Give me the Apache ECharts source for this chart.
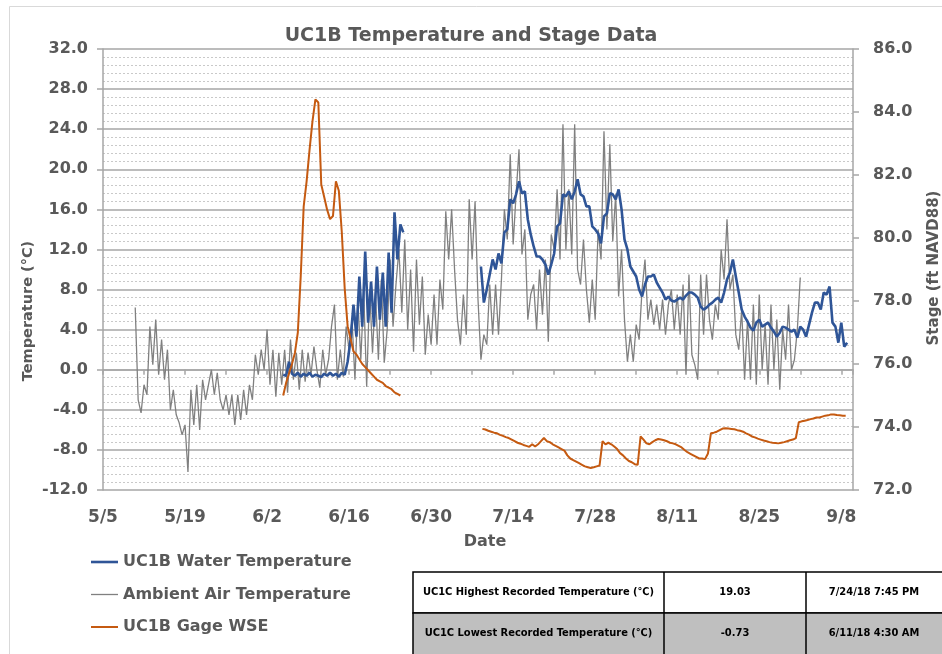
<!DOCTYPE html>
<html>
<head>
<meta charset="utf-8">
<script src="https://cdn.jsdelivr.net/npm/echarts@6/dist/echarts.min.js"></script>
<style>
  html, body { margin: 0; padding: 0; background: #fff; }
  #chart { width: 942px; height: 654px; }
</style>
</head>
<body>
<div id="chart"></div>
<script>
// x axis is counted in days from 5/5/2018
const axisStart = '2018-05-05 00:00'
const dateLabels = ['5/5', '5/19', '6/2', '6/16', '6/30', '7/14', '7/28', '8/11', '8/25', '9/8']
const stepDays = 0.5 // readings every 12 hours

// Ambient air temperature (°C)
const airStart = '2018-05-10 12:00'
const airTemp = [
  6.2, -3.0, -4.3, -1.5, -2.5, 4.3, 0.5, 5.0, -0.5, 3.0, -1.0, 2.0,
  -4.0, -2.0, -4.5, -5.3, -6.5, -5.5, -10.2, -2.0, -5.5, -1.5, -6.0, -1.0,
  -3.0, -1.5, 0.0, -2.5, -0.3, -3.0, -4.0, -2.5, -4.5, -2.5, -5.5, -2.5,
  -5.0, -2.0, -4.5, -1.5, -3.0, 1.5, -0.5, 2.0, 0.0, 4.0, -1.5, 2.0,
  -2.7, 1.7, -1.5, 2.0, -2.3, 3.0, -1.0, 1.7, -2.0, 2.0, -1.2, 1.7,
  -0.5, 2.3, 0.0, -1.8, 2.0, -0.5, 1.0, 4.3, 6.5, -1.0, 2.0, -0.7,
  4.3, 2.0, 5.0, -1.0, 7.0, 1.0, 7.7, -1.7, 8.0, 1.7, 7.7, 1.0,
  9.0, 0.7, 4.0, 11.0, 4.3, 8.5, 12.0, 5.7, 13.0, 4.0, 10.0, 1.8,
  11.0, 4.5, 9.3, 1.5, 5.5, 2.5, 7.5, 2.5, 9.0, 6.0, 15.8, 11.0,
  16.0, 10.0, 5.0, 2.5, 7.5, 3.5, 17.0, 11.0, 16.8, 7.0, 1.0, 3.5,
  2.5, 8.5, 3.5, 8.5, 3.5, 9.0, 16.0, 13.0, 21.5, 12.5, 17.5, 22.0,
  11.5, 14.0, 5.0, 7.5, 8.5, 4.0, 10.0, 5.5, 11.0, 2.8, 13.5, 12.0,
  18.0, 11.0, 24.5, 12.0, 18.0, 11.5, 24.5, 10.0, 8.5, 13.0, 8.0, 4.7,
  9.0, 5.0, 14.0, 11.0, 23.8, 14.0, 22.5, 12.8, 17.5, 7.3, 12.0, 5.0,
  0.8, 3.5, 0.8, 4.5, 3.0, 8.0, 11.0, 5.0, 7.0, 4.5, 6.5, 4.0,
  7.0, 3.5, 6.5, 8.0, 4.0, 7.5, 3.5, 8.5, -0.5, 9.5, 1.5, 0.5,
  -1.0, 9.5, 3.5, 9.5, 5.0, 3.0, 6.5, 5.0, 12.0, 9.0, 15.0, 8.0,
  9.5, 3.5, 2.0, 6.0, -1.0, 5.0, -1.0, 6.5, -1.5, 7.5, 0.0, 4.5,
  -1.5, 6.5, 0.0, 5.0, -2.0, 4.0, 1.0, 6.5, 0.0, 1.0, 4.0, 9.2
]

// UC1B water temperature (°C), two logger periods
const waterStart1 = '2018-06-04 18:00'
const waterTemp1 = [
  -0.5, -0.6, 0.8, -0.4, -0.6, -0.3, -0.7, -0.4, -0.6, -0.3, -0.7, -0.5,
  -0.6, -0.73, -0.4, -0.6, -0.3, -0.6, -0.4, -0.7, -0.3, -0.5, 0.8, 3.0,
  6.5, 3.3, 9.3, 4.3, 11.8, 4.7, 8.8, 4.3, 10.3, 5.0, 9.7, 4.3,
  11.7, 5.7, 15.7, 11.0, 14.5, 13.7
]
const waterStart2 = '2018-07-08 12:00'
const waterTemp2 = [
  10.3, 6.7, 8.0, 9.5, 11.0, 10.0, 11.6, 10.6, 13.7, 14.0, 17.0, 16.6,
  17.5, 18.8, 17.6, 17.8, 15.0, 13.5, 12.3, 11.3, 11.3, 11.0, 10.5, 9.5,
  10.5, 11.6, 14.3, 14.6, 17.5, 17.3, 17.8, 17.0, 17.8, 19.0, 17.5, 17.3,
  16.3, 16.3, 14.3, 14.0, 13.6, 12.6, 15.3, 15.6, 17.6, 17.5, 17.0, 18.0,
  16.0, 13.0, 12.0, 10.3, 9.8, 9.3, 8.0, 7.3, 8.5, 9.3, 9.3, 9.5,
  8.7, 8.2, 7.7, 7.0, 7.3, 6.9, 6.8, 7.0, 7.2, 7.0, 7.4, 7.7,
  7.7, 7.5, 7.2, 6.3, 6.0, 6.2, 6.5, 6.7, 7.0, 7.2, 6.7, 7.7,
  9.0, 9.7, 11.0, 9.3, 7.7, 6.0, 5.3, 4.8, 4.2, 3.9, 4.7, 5.0,
  4.3, 4.5, 4.7, 4.2, 3.8, 3.3, 3.7, 4.3, 4.2, 4.0, 3.8, 4.0,
  3.2, 4.3, 4.0, 3.3, 4.5, 5.7, 6.7, 6.7, 6.0, 7.7, 7.5, 8.3,
  4.7, 4.3, 2.7, 4.7, 2.3, 2.7
]

// UC1B gage water surface elevation (ft NAVD88), two periods
const stageStart1 = '2018-06-04 18:00'
const stage1 = [
  75.0, 75.4, 75.7, 76.0, 76.35, 77.0, 78.8, 81.0, 81.8, 82.8, 83.7, 84.4,
  84.3, 81.7, 81.3, 80.9, 80.6, 80.7, 81.8, 81.5, 80.2, 78.4, 77.2, 76.8,
  76.4, 76.3, 76.15, 76.0, 75.9, 75.8, 75.7, 75.6, 75.5, 75.45, 75.4, 75.3,
  75.25, 75.2, 75.1, 75.05, 75.0
]
const stageStart2 = '2018-07-08 18:00'
const stage2 = [
  73.94, 73.92, 73.88, 73.85, 73.82, 73.8, 73.75, 73.72, 73.68, 73.65, 73.6, 73.55,
  73.5, 73.47, 73.43, 73.4, 73.37, 73.45, 73.38, 73.45, 73.55, 73.65, 73.55, 73.52,
  73.45, 73.4, 73.35, 73.3, 73.25, 73.1, 73.0, 72.95, 72.9, 72.85, 72.8, 72.75,
  72.72, 72.7, 72.72, 72.75, 72.78, 73.55, 73.45, 73.5, 73.45, 73.38, 73.3, 73.17,
  73.1, 73.0, 72.92, 72.88, 72.82, 72.8, 73.7, 73.6, 73.48, 73.45, 73.52, 73.58,
  73.62, 73.6, 73.58, 73.55, 73.5, 73.48, 73.45, 73.4, 73.35, 73.27, 73.2, 73.15,
  73.1, 73.05, 73.0, 73.0, 72.98, 73.16, 73.8, 73.82, 73.85, 73.9, 73.95, 73.96,
  73.95, 73.94, 73.93, 73.9, 73.88, 73.85, 73.8, 73.76, 73.7, 73.67, 73.63, 73.6,
  73.57, 73.55, 73.52, 73.5, 73.49, 73.48, 73.5, 73.52, 73.55, 73.58, 73.6, 73.65,
  74.15, 74.18, 74.2, 74.22, 74.25, 74.27, 74.3, 74.3, 74.33, 74.36, 74.37, 74.4,
  74.4, 74.38, 74.37, 74.36, 74.36
]

const tableRows = [
  ['UC1C Highest Recorded Temperature (\u2103)', '19.03', '7/24/18 7:45 PM'],
  ['UC1C Lowest Recorded Temperature (\u2103)', '-0.73', '6/11/18 4:30 AM']
]

function toDay (s) {
  const t = Date.parse(s.replace(' ', 'T') + ':00Z')
  const t0 = Date.parse(axisStart.replace(' ', 'T') + ':00Z')
  return (t - t0) / 86400000
}
function segment (start, values) {
  const d0 = toDay(start)
  return values.map((v, i) => [d0 + i * stepDays, v])
}
function withGap (a, b) {
  const gapX = (a[a.length - 1][0] + b[0][0]) / 2
  return a.concat([[gapX, null]], b)
}

const labelFont = 'DejaVu Sans'
const grey = '#595959'
const axisGrey = '#A6A6A6'
const blue = '#2F5597'
const airGrey = '#808080'
const orange = '#C55A11'

const chart = echarts.init(document.getElementById('chart'), null, { renderer: 'canvas' })

// table drawn as graphic elements
const tableX = 413
const tableY = 572
const rowH = [41, 45]
const colX = [413, 664, 806, 1000]
const colCenter = [538.5, 735, 874]
const tableGraphics = []
let rowTop = tableY
tableRows.forEach((row, r) => {
  tableGraphics.push({
    type: 'rect',
    shape: { x: tableX, y: rowTop, width: colX[3] - tableX, height: rowH[r] },
    style: { fill: r === 0 ? '#ffffff' : '#BFBFBF', stroke: '#000', lineWidth: 1.5 }
  })
  row.forEach((txt, c) => {
    tableGraphics.push({
      type: 'text',
      x: colCenter[c],
      y: rowTop + rowH[r] / 2 - (r === 1 ? 2 : 0),
      style: {
        text: txt,
        font: 'bold 11px "DejaVu Sans Condensed", "DejaVu Sans", sans-serif',
        fill: '#000',
        align: 'center',
        verticalAlign: 'middle'
      }
    })
  })
  rowTop += rowH[r]
})
colX.slice(1, 3).forEach(x => {
  tableGraphics.push({
    type: 'line',
    shape: { x1: x, y1: tableY, x2: x, y2: 700 },
    style: { stroke: '#000', lineWidth: 1.5 }
  })
})

chart.setOption({
  animation: false,
  backgroundColor: '#ffffff',
  title: {
    text: 'UC1B Temperature and Stage Data',
    left: 'center',
    top: 22,
    textStyle: { fontFamily: labelFont, fontWeight: 'bold', fontSize: 19, color: grey }
  },
  grid: { left: 103, top: 49, width: 750, height: 441 },
  legend: {
    orient: 'vertical',
    left: 91,
    top: 552,
    padding: 0,
    itemWidth: 27,
    itemHeight: 14,
    itemGap: 12.5,
    textStyle: { fontFamily: labelFont, fontWeight: 'bold', fontSize: 16, lineHeight: 20, color: grey },
    data: [
      { name: 'UC1B Water Temperature', icon: 'path://M0,0H27V2.6H0Z' },
      { name: 'Ambient Air Temperature', icon: 'path://M0,0H27V1.3H0Z' },
      { name: 'UC1B Gage WSE', icon: 'path://M0,0H27V2H0Z' }
    ]
  },
  xAxis: {
    type: 'value',
    min: 0,
    max: 128,
    interval: 7,
    name: 'Date',
    nameLocation: 'middle',
    nameGap: 44,
    nameTextStyle: { fontFamily: labelFont, fontWeight: 'bold', fontSize: 16, color: grey, padding: [0, 0, 0, 14] },
    axisLine: { lineStyle: { color: axisGrey, width: 1.5 } },
    axisTick: { length: 5, lineStyle: { color: axisGrey, width: 1.5 } },
    axisLabel: {
      margin: 19,
      fontFamily: labelFont,
      fontWeight: 'bold',
      fontSize: 17,
      color: grey,
      formatter: v => (v % 14 === 0 ? dateLabels[v / 14] : '')
    },
    splitLine: { show: false }
  },
  yAxis: [
    {
      type: 'value',
      min: -12,
      max: 32,
      interval: 4,
      position: 'left',
      axisLine: { show: true, lineStyle: { color: axisGrey, width: 1.5 } },
      axisTick: { show: true, length: 6, lineStyle: { color: axisGrey, width: 1.5 } },
      axisLabel: {
        margin: 15,
        fontFamily: labelFont,
        fontWeight: 'bold',
        fontSize: 16,
        color: grey,
        formatter: v => v.toFixed(1)
      },
      splitLine: { show: true, lineStyle: { color: axisGrey, width: 1.5 } },
      minorTick: { show: false, splitNumber: 5 },
      minorSplitLine: { show: true, lineStyle: { color: '#C9C9C9', width: 1, type: [2, 2] } }
    },
    {
      type: 'value',
      min: 72,
      max: 86,
      interval: 2,
      position: 'right',
      axisLine: { show: true, lineStyle: { color: axisGrey, width: 1.5 } },
      axisTick: { show: true, length: 6, lineStyle: { color: axisGrey, width: 1.5 } },
      axisLabel: {
        margin: 20,
        fontFamily: labelFont,
        fontWeight: 'bold',
        fontSize: 16,
        color: grey,
        formatter: v => v.toFixed(1)
      },
      splitLine: { show: false }
    }
  ],
  graphic: [
    {
      type: 'rect',
      silent: true,
      shape: { x: 9.5, y: 6.5, width: 1000, height: 700 },
      style: { fill: 'none', stroke: '#D9D9D9', lineWidth: 1 }
    },
    {
      type: 'text',
      x: 28,
      y: 311,
      rotation: Math.PI / 2,
      style: {
        text: 'Temperature (°C)',
        font: 'bold 14.5px "DejaVu Sans"',
        fill: grey,
        align: 'center',
        verticalAlign: 'middle'
      }
    },
    {
      type: 'text',
      x: 934,
      y: 268,
      rotation: Math.PI / 2,
      style: {
        text: 'Stage (ft NAVD88)',
        font: 'bold 15px "DejaVu Sans"',
        fill: grey,
        align: 'center',
        verticalAlign: 'middle'
      }
    }
  ].concat(tableGraphics),
  series: [
    {
      name: 'UC1B Water Temperature',
      type: 'line',
      yAxisIndex: 0,
      symbol: 'none',
      z: 3,
      lineStyle: { color: blue, width: 2.6 },
      itemStyle: { color: blue },
      data: withGap(segment(waterStart1, waterTemp1), segment(waterStart2, waterTemp2))
    },
    {
      name: 'Ambient Air Temperature',
      type: 'line',
      yAxisIndex: 0,
      symbol: 'none',
      z: 2,
      lineStyle: { color: airGrey, width: 1.3 },
      itemStyle: { color: airGrey },
      data: segment(airStart, airTemp)
    },
    {
      name: 'UC1B Gage WSE',
      type: 'line',
      yAxisIndex: 1,
      symbol: 'none',
      z: 4,
      lineStyle: { color: orange, width: 2 },
      itemStyle: { color: orange },
      data: withGap(segment(stageStart1, stage1), segment(stageStart2, stage2))
    }
  ]
})
</script>
</body>
</html>
